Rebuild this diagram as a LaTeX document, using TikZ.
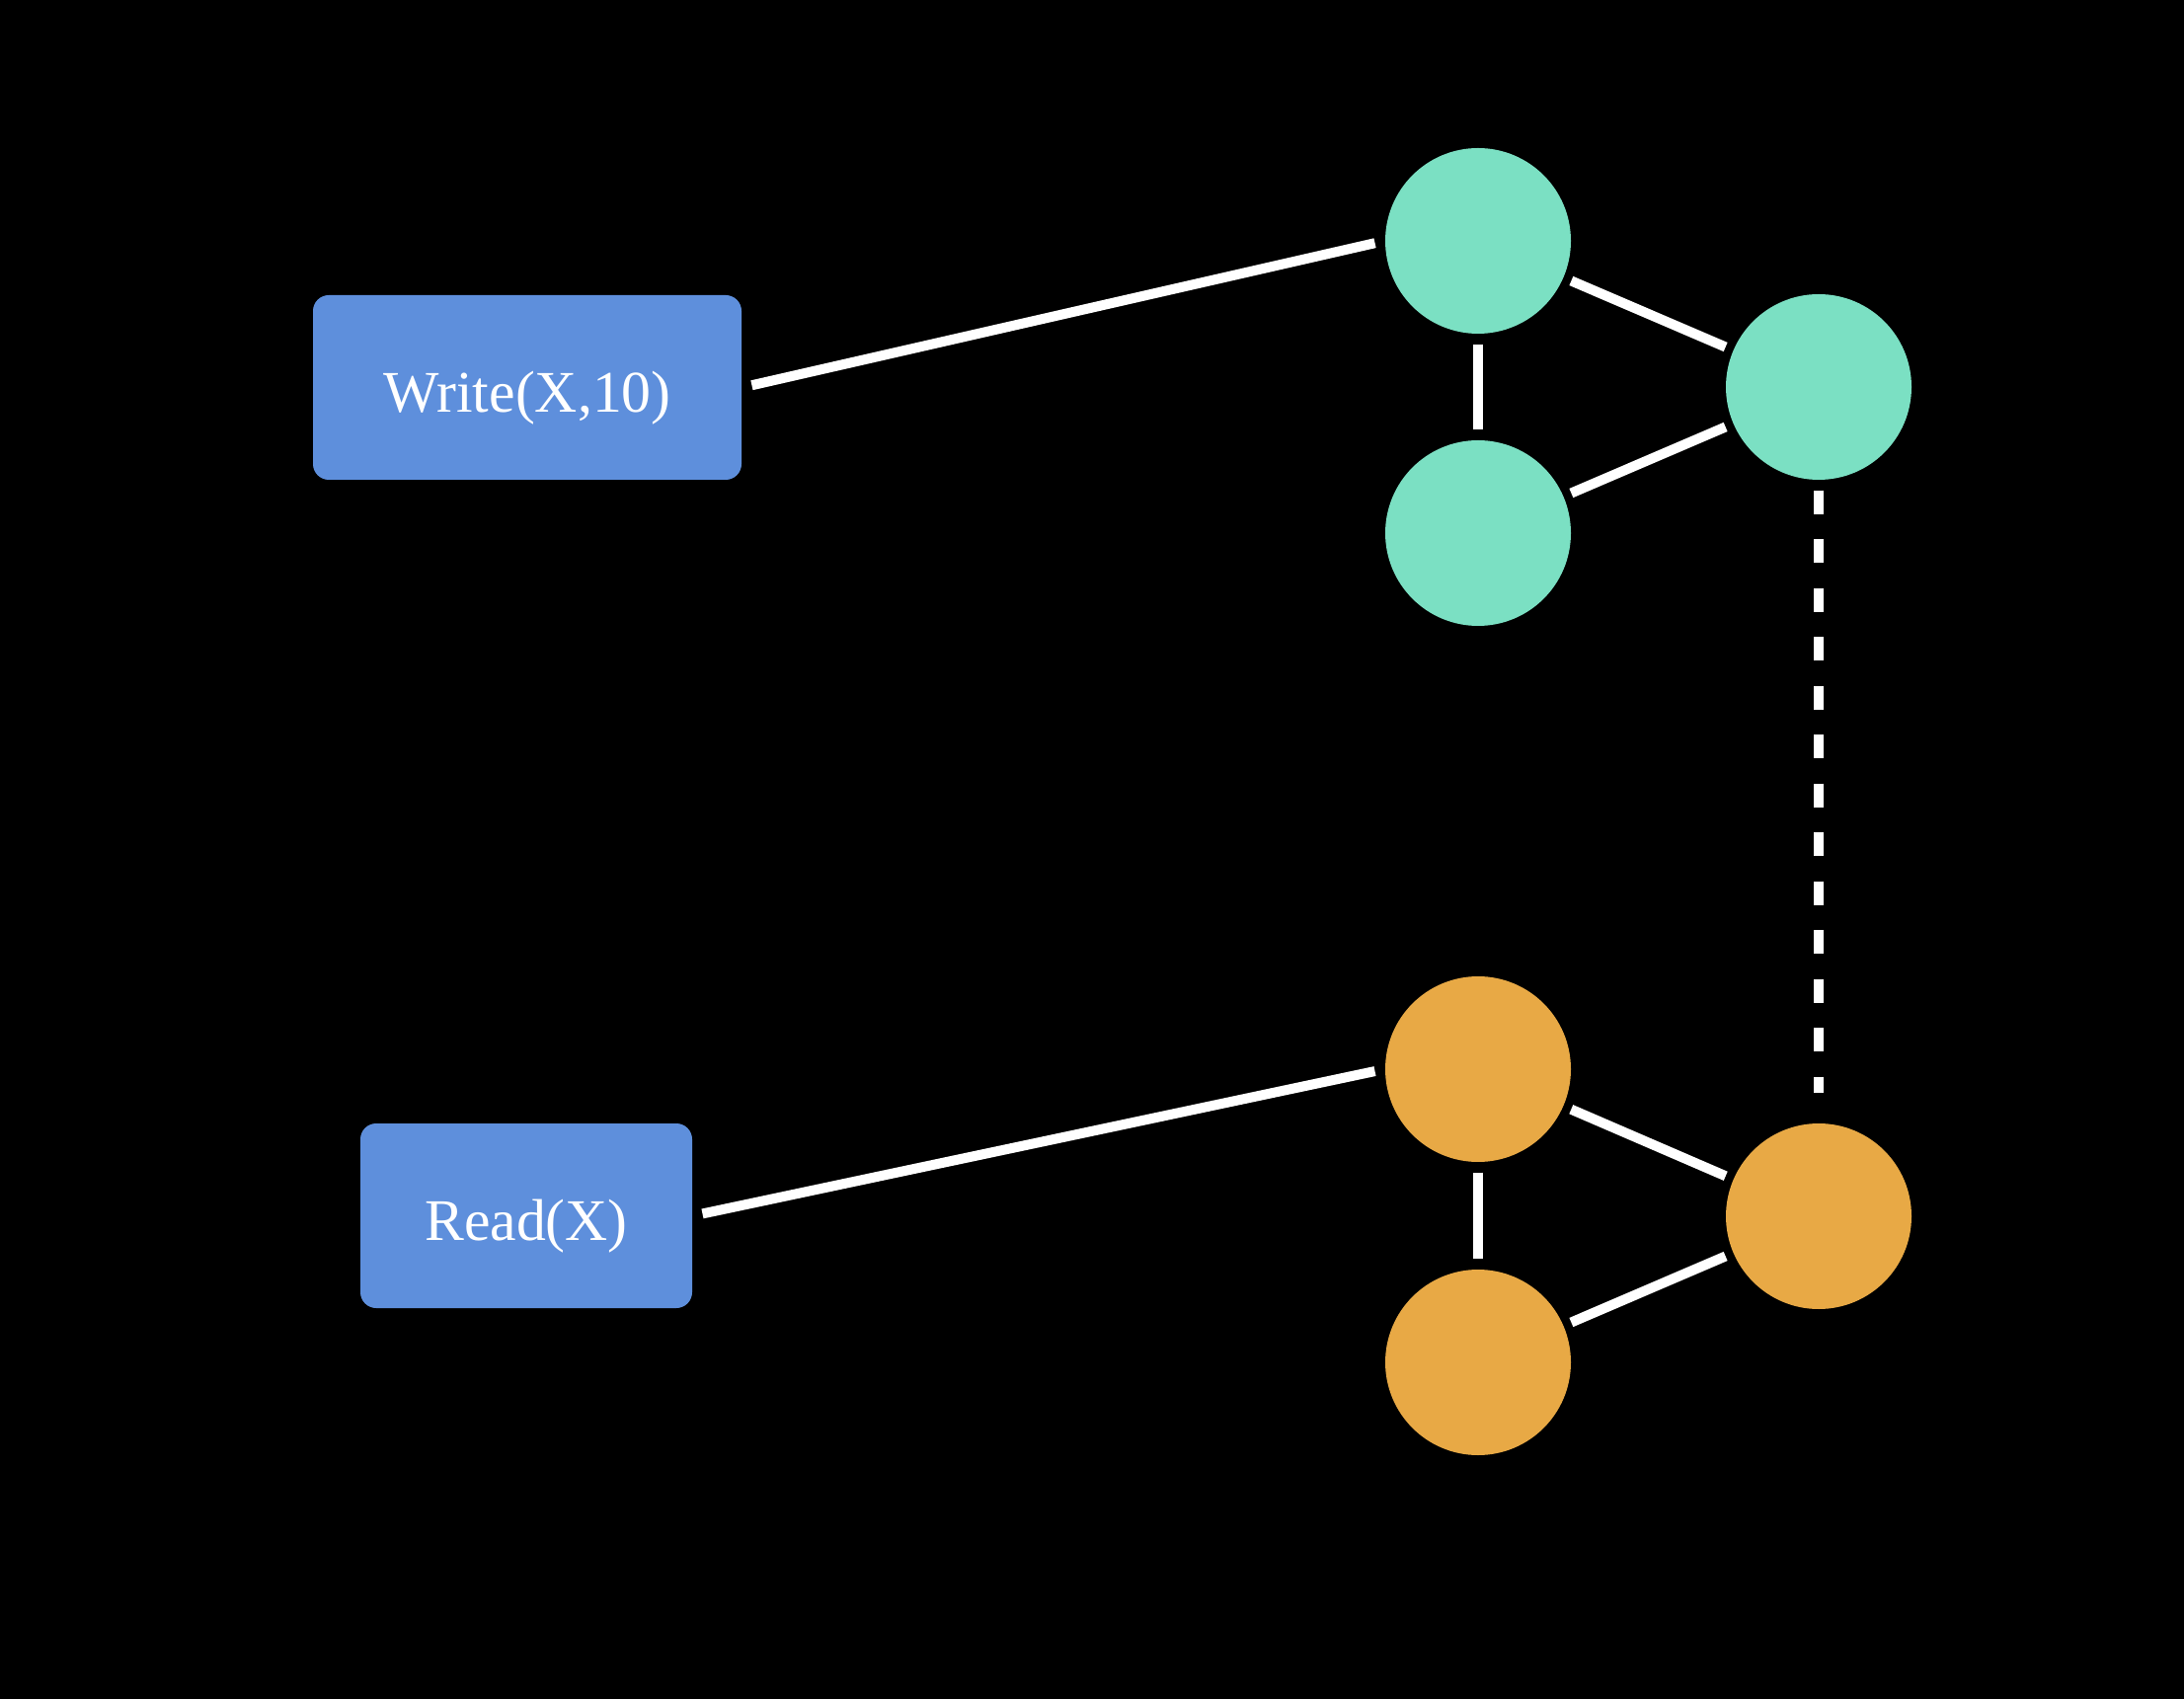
\documentclass[tikz,border=0pt]{standalone}
\usepackage{fontspec}
\setmainfont{Liberation Serif}
\usetikzlibrary{calc}
\definecolor{opblue}{RGB}{94,143,220}
\definecolor{grpgreen}{RGB}{123,224,195}
\definecolor{grporange}{RGB}{232,169,69}
\tikzset{
  opbox/.style={fill=opblue,rounded corners=0.16cm,minimum height=1.87cm,
    inner sep=0pt,text=white,font=\fontsize{17}{20}\selectfont,
    text height=0.6cm,text depth=0.1cm},
  replica/.style={circle,inner sep=0pt,minimum size=1.88cm},
  link/.style={white,line width=0.1cm,shorten <=0.1cm,shorten >=0.1cm},
  sync/.style={white,line width=0.1cm,dash pattern=on 0.24cm off 0.255cm}
}
\begin{document}
\begin{tikzpicture}
    \useasboundingbox (0,0) rectangle (22.12,17.20);
    \fill[black] (-0.1,-0.1) rectangle (22.22,17.30);
    % operations
    \node[opbox,minimum width=4.34cm] (write) at (5.34,13.275) {Write(X,10)};
    \node[opbox,minimum width=3.36cm] (read) at (5.33,4.885) {Read(X)};
    % upper group
    \node[replica,fill=grpgreen] (g1) at (14.97,14.76) {};
    \node[replica,fill=grpgreen] (g2) at (18.42,13.28) {};
    \node[replica,fill=grpgreen] (g3) at (14.97,11.80) {};
    % lower group
    \node[replica,fill=grporange] (o1) at (14.97,6.37) {};
    \node[replica,fill=grporange] (o2) at (18.42,4.88) {};
    \node[replica,fill=grporange] (o3) at (14.97,3.40) {};
    \draw[link] (write.east) -- (g1.west);
    \draw[link] (read.east) -- (o1.west);
    \foreach \p in {g,o} {
      \draw[link,shorten <=0.08cm,shorten >=0.08cm] (\p1) -- (\p2);
      \draw[link,shorten <=0.08cm,shorten >=0.08cm] (\p3) -- (\p2);
      \draw[link] (\p1) -- (\p3);
    }
    \draw[sync,shorten <=0.1cm,shorten >=0.3cm] (g2) -- (o2);
\end{tikzpicture}
\end{document}
